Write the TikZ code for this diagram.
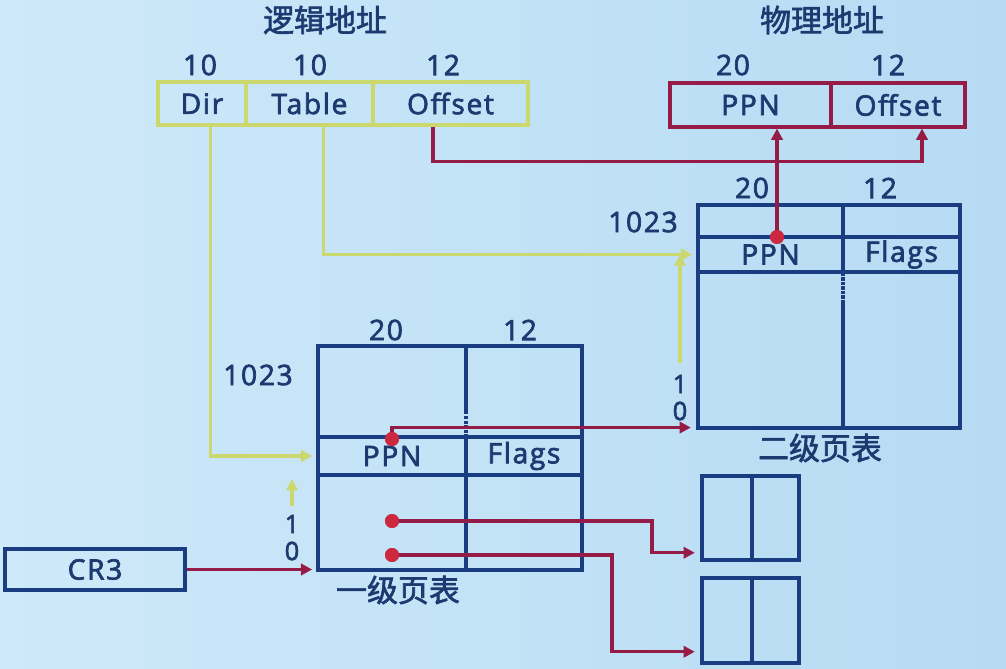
\documentclass[tikz,border=0pt]{standalone}
\usepackage{fontspec}
\setmainfont{Open Sans}[LetterSpace=6, FakeBold=2.5]
\newfontfamily\cjk{Noto Sans CJK SC}[FakeBold=2]
\usetikzlibrary{arrows}
\usetikzlibrary{arrows.meta}
\usetikzlibrary{calc}
\definecolor{bgleft}{RGB}{206,233,249}
\definecolor{bgright}{RGB}{182,219,243}
\definecolor{navy}{RGB}{28,58,112}
\definecolor{boxblue}{RGB}{26,60,128}
\definecolor{lime}{RGB}{202,216,110}
\definecolor{maroon}{RGB}{150,28,72}
\definecolor{dotred}{RGB}{204,40,64}

\begin{document}
\begin{tikzpicture}[x=0.025cm,y=-0.025cm]
\tikzset{every node/.style={text=navy, font=\fontsize{20}{24}\selectfont}}
\tikzset{cell/.style 2 args={draw=boxblue, line width=2.2pt, inner sep=0pt, minimum width=#1*0.025cm, minimum height=#2*0.025cm}}
\tikzset{title/.style={font=\fontsize{22}{26}\selectfont\cjk}}
\tikzset{idx/.style={inner sep=0pt, font=\fontsize{18}{20}\selectfont}}
\tikzset{tabline/.style={boxblue, line width=2.2pt}}
\tikzstyle{myarrow} = [-{Triangle[length=8pt,width=8pt]}]
\tikzset{vaddr/.style={myarrow, draw=lime, line width=2.2pt}}
\tikzset{ptr/.style={myarrow, draw=maroon, line width=2.4pt}}
\tikzset{dot/.style={circle, fill=dotred, inner sep=0pt, minimum size=14*0.025cm}}

\shade[left color=bgleft, right color=bgright] (0,0) rectangle (1006,669);

% logical address
\node[title] (lah) at (325,20) {逻辑地址};
\node (bdir) at (200,65) {10};
\node (btbl) at (310,65) {10};
\node (boff) at (443,65) {12};
\node[cell={88}{43}, draw=lime] (dir) at (202,103.5) {Dir};
\node[cell={127}{43}, draw=lime] (tbl) at (309.5,103.5) {Table};
\node[cell={155}{43}, draw=lime] (loff) at (450.5,103.5) {Offset};

% physical address
\node[title] (pah) at (822,20) {物理地址};
\node (bppn) at (733,65) {20};
\node (bpoff) at (888,65) {12};
\node[cell={161}{44}, draw=maroon] (pppn) at (750.5,105) {PPN};
\node[cell={134}{44}, draw=maroon] (poff) at (898,105) {Offset};

% second level table
\node (t2w1) at (752,188) {20};
\node (t2w2) at (880,188) {12};
\node (t2max) at (643,222) {1023};
\node[cell={145}{32}] (t2topl) at (770.5,221) {};
\node[cell={117}{32}] (t2topr) at (901.5,221) {};
\node[cell={145}{35}] (t2ppn) at (770.5,254.5) {PPN};
\node[cell={117}{35}] (t2flg) at (901.5,254.5) {Flags};
\node[cell={262}{156}] (t2rest) at (829,350) {};
\draw[tabline, densely dotted] (843,273) -- (843,300);
\draw[tabline] (843,300) -- (843,428);
\node[idx] (t2one) at (680,384) {1};
\node[idx] (t2zero) at (680,411) {0};
\node[title] (t2name) at (820,448) {二级页表};

% first level table
\node (t1w1) at (386,330) {20};
\node (t1w2) at (520,330) {12};
\node (t1max) at (258,375) {1023};
\node[cell={264}{91}] (t1top) at (450,391.5) {};
\draw[tabline] (466,346) -- (466,414);
\draw[tabline, densely dotted] (466,416) -- (466,437);
\node[cell={148}{38}] (t1ppn) at (392,456) {PPN};
\node[cell={116}{38}] (t1flg) at (524,456) {Flags};
\node[cell={148}{95}] (t1botl) at (392,522.5) {};
\node[cell={116}{95}] (t1botr) at (524,522.5) {};
\node[idx] (t1one) at (292,524) {1};
\node[idx] (t1zero) at (292,551) {0};
\node[title] (t1name) at (398,590) {一级页表};

% pages
\node[cell={97}{84}] (pga) at (750.5,518) {};
\draw[tabline] (752,476) -- (752,560);
\node[cell={97}{85}] (pgb) at (750.5,620.5) {};
\draw[tabline] (752,578) -- (752,663);

% CR3
\node[cell={180}{41}] (cr3) at (95,569.5) {CR3};

% lines
\draw[vaddr, shorten >=3pt] ([xshift=0.22cm]dir.south) |- (t1ppn.west);
\draw[vaddr, shorten >=3pt] ([xshift=0.34cm]tbl.south) |- (t2ppn.west);
\draw[vaddr, shorten <=6pt, shorten >=4pt] (t1one.north) -- (t1one.north |- t1botl.north);
\draw[vaddr, shorten <=8pt] (t2one.north) -- (t2one.north |- t2ppn.west);
\draw[ptr] ([xshift=-0.44cm]loff.south) -- ++(0,35) -| ([xshift=0.6cm]poff.south);
\draw[ptr, shorten >=3pt] (cr3.east) -- (cr3.east -| t1botl.west);

\node[dot] (d1) at (392,439) {};
\node[dot] (d2) at (777,237) {};
\node[dot] (d3) at (392,521) {};
\node[dot] (d4) at (392,555) {};
\draw[ptr] (d2.center) -- (d2.center |- pppn.south);
\draw[ptr, shorten >=4pt] (d1.center) |- ([yshift=0.05cm]t2rest.south west);
\draw[ptr, shorten >=4pt] (d3.center) -- ++(260,0) |- ([yshift=0.22cm]pga.south west);
\draw[ptr, shorten >=4pt] (d4.center) -- ++(220,0) |- ([yshift=0.32cm]pgb.south west);
\node[dot] at (d1) {};
\node[dot] at (d2) {};
\node[dot] at (d3) {};
\node[dot] at (d4) {};
\end{tikzpicture}
\end{document}
